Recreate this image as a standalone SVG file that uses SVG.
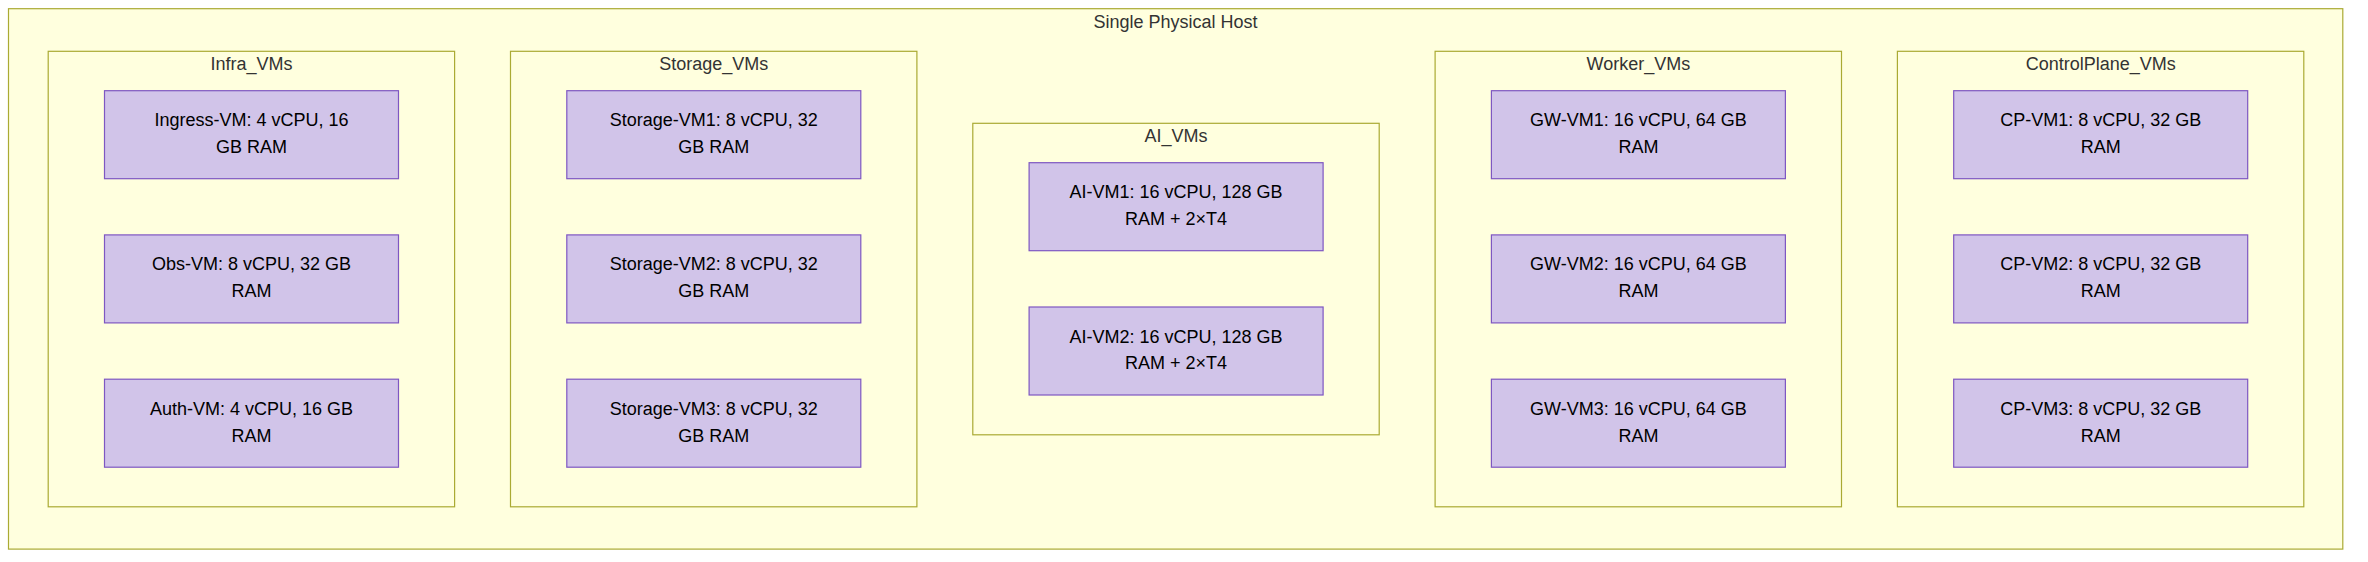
<svg xmlns="http://www.w3.org/2000/svg" width="2368" height="562" viewBox="0 0 2368 562">
<style>
.bg{fill:#ffffff}
.cluster{fill:#ffffde;stroke:#aaaa33;stroke-width:1.2}
.clabel{font-family:"Liberation Sans",Arial,sans-serif;font-size:18px;fill:#333333;text-anchor:middle}
.node rect{fill:#d1c4e9;stroke:#7e57c2;stroke-width:1.2}
.node text{font-family:"Liberation Sans",Arial,sans-serif;font-size:18px;fill:#000000;text-anchor:middle}
</style>
<rect class="bg" x="0" y="0" width="2368" height="562"/>
<g id="Single_Physical_Host">
<rect class="cluster" x="8.5" y="8.7" width="2334.3" height="540.4"/>
<text class="clabel" x="1175.6" y="27.6">Single Physical Host</text>
</g>
<g id="Infra_VMs">
<rect class="cluster" x="48.2" y="51.3" width="406.4" height="455.5"/>
<text class="clabel" x="251.5" y="69.9">Infra_VMs</text>
</g>
<g id="Storage_VMs">
<rect class="cluster" x="510.5" y="51.3" width="406.4" height="455.5"/>
<text class="clabel" x="713.8" y="69.9">Storage_VMs</text>
</g>
<g id="AI_VMs">
<rect class="cluster" x="972.8" y="123.3" width="406.4" height="311.5"/>
<text class="clabel" x="1176.1" y="141.6">AI_VMs</text>
</g>
<g id="Worker_VMs">
<rect class="cluster" x="1435.1" y="51.3" width="406.4" height="455.5"/>
<text class="clabel" x="1638.4" y="69.9">Worker_VMs</text>
</g>
<g id="ControlPlane_VMs">
<rect class="cluster" x="1897.4" y="51.3" width="406.4" height="455.5"/>
<text class="clabel" x="2100.7" y="69.9">ControlPlane_VMs</text>
</g>
<g id="connectors"></g>
<g id="IngressVM" class="node"><rect x="104.5" y="90.7" width="294" height="88"/><text x="251.5" y="126.2">Ingress-VM: 4 vCPU, 16</text><text x="251.5" y="153.1">GB RAM</text></g>
<g id="ObsVM" class="node"><rect x="104.5" y="234.9" width="294" height="88"/><text x="251.5" y="270.4">Obs-VM: 8 vCPU, 32 GB</text><text x="251.5" y="297.3">RAM</text></g>
<g id="AuthVM" class="node"><rect x="104.5" y="379.2" width="294" height="88"/><text x="251.5" y="414.7">Auth-VM: 4 vCPU, 16 GB</text><text x="251.5" y="441.6">RAM</text></g>
<g id="StorageVM1" class="node"><rect x="566.8" y="90.7" width="294" height="88"/><text x="713.8" y="126.2">Storage-VM1: 8 vCPU, 32</text><text x="713.8" y="153.1">GB RAM</text></g>
<g id="StorageVM2" class="node"><rect x="566.8" y="234.9" width="294" height="88"/><text x="713.8" y="270.4">Storage-VM2: 8 vCPU, 32</text><text x="713.8" y="297.3">GB RAM</text></g>
<g id="StorageVM3" class="node"><rect x="566.8" y="379.2" width="294" height="88"/><text x="713.8" y="414.7">Storage-VM3: 8 vCPU, 32</text><text x="713.8" y="441.6">GB RAM</text></g>
<g id="AIVM1" class="node"><rect x="1029.1" y="162.7" width="294" height="88"/><text x="1176.1" y="198.2">AI-VM1: 16 vCPU, 128 GB</text><text x="1176.1" y="225.1">RAM + 2×T4</text></g>
<g id="AIVM2" class="node"><rect x="1029.1" y="307.0" width="294" height="88"/><text x="1176.1" y="342.5">AI-VM2: 16 vCPU, 128 GB</text><text x="1176.1" y="369.4">RAM + 2×T4</text></g>
<g id="GWVM1" class="node"><rect x="1491.4" y="90.7" width="294" height="88"/><text x="1638.4" y="126.2">GW-VM1: 16 vCPU, 64 GB</text><text x="1638.4" y="153.1">RAM</text></g>
<g id="GWVM2" class="node"><rect x="1491.4" y="234.9" width="294" height="88"/><text x="1638.4" y="270.4">GW-VM2: 16 vCPU, 64 GB</text><text x="1638.4" y="297.3">RAM</text></g>
<g id="GWVM3" class="node"><rect x="1491.4" y="379.2" width="294" height="88"/><text x="1638.4" y="414.7">GW-VM3: 16 vCPU, 64 GB</text><text x="1638.4" y="441.6">RAM</text></g>
<g id="CPVM1" class="node"><rect x="1953.7" y="90.7" width="294" height="88"/><text x="2100.7" y="126.2">CP-VM1: 8 vCPU, 32 GB</text><text x="2100.7" y="153.1">RAM</text></g>
<g id="CPVM2" class="node"><rect x="1953.7" y="234.9" width="294" height="88"/><text x="2100.7" y="270.4">CP-VM2: 8 vCPU, 32 GB</text><text x="2100.7" y="297.3">RAM</text></g>
<g id="CPVM3" class="node"><rect x="1953.7" y="379.2" width="294" height="88"/><text x="2100.7" y="414.7">CP-VM3: 8 vCPU, 32 GB</text><text x="2100.7" y="441.6">RAM</text></g>
</svg>
